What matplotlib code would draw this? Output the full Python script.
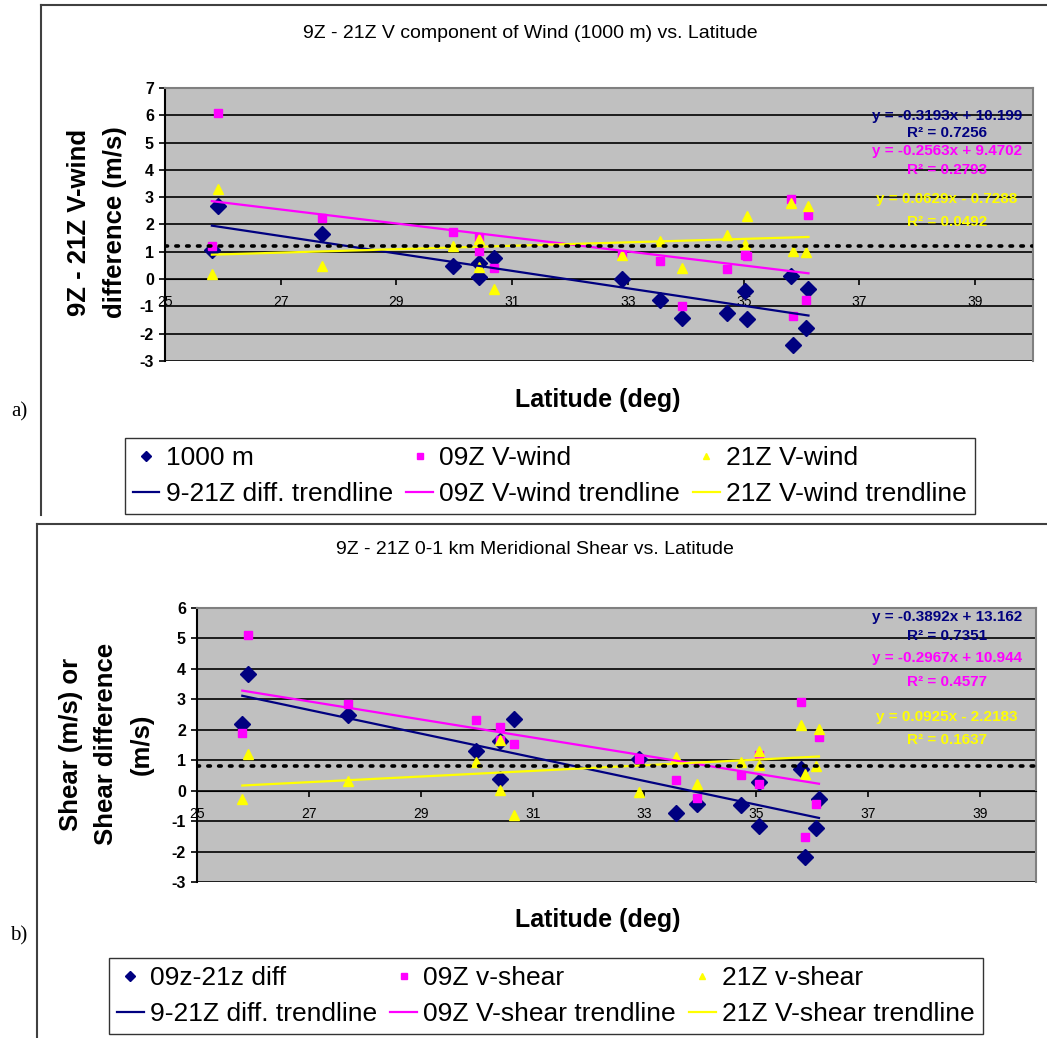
import matplotlib
matplotlib.use("Agg")
import matplotlib.pyplot as plt
from matplotlib.lines import Line2D
import numpy as np

plt.rcParams['font.family'] = ['Liberation Sans', 'DejaVu Sans']

# ---- panel a) : 9Z - 21Z V component of wind (1000 m)
lat_a = [25.91, 25.81, 27.71, 29.98, 30.42, 30.43, 30.68, 32.89, 33.56, 33.93,
         34.72, 35.03, 35.05, 35.81, 35.86, 36.12, 36.08]
diff_a = [2.67, 1.06, 1.67, 0.49, 0.60, 0.06, 0.76, 0.02, -0.77, -1.42,
          -1.23, -0.45, -1.47, 0.12, -2.42, -0.38, -1.78]
v09_a = [6.09, 1.22, 2.22, 1.71, 1.03, 1.53, 0.41, 0.90, 0.66, -0.99,
         0.38, 0.88, 0.84, 2.92, -1.36, 2.33, -0.77]
v21_a = [3.30, 0.18, 0.49, 1.22, 0.43, 1.47, -0.37, 0.88, 1.39, 0.39,
         1.61, 1.28, 2.31, 2.77, 1.03, 2.67, 1.00]
# trendline coefficients (slope, intercept, R2) as printed on the chart
fit_a = [(-0.3193, 10.199, 0.7256), (-0.2563, 9.4702, 0.2793), (0.0629, -0.7288, 0.0492)]
ref_a = 1.22
labels_a = ['1000 m', '09Z V-wind', '21Z V-wind',
            '9-21Z diff. trendline', '09Z V-wind trendline', '21Z V-wind trendline']

# ---- panel b) : 9Z - 21Z 0-1 km meridional shear
lat_b = [25.92, 25.81, 27.70, 29.98, 30.42, 30.42, 30.67, 32.90, 33.57, 33.94,
         34.72, 35.04, 35.05, 35.79, 35.87, 36.12, 36.07]
diff_b = [3.84, 2.19, 2.50, 1.29, 1.62, 0.38, 2.35, 1.05, -0.74, -0.44,
          -0.46, 0.28, -1.15, 0.72, -2.17, -0.29, -1.24]
s09_b = [5.10, 1.89, 2.85, 2.33, 1.68, 2.09, 1.52, 1.05, 0.34, -0.24,
         0.52, 1.16, 0.22, 2.90, -1.53, 1.76, -0.44]
s21_b = [1.21, -0.27, 0.31, 0.94, 0.03, 1.68, -0.81, -0.06, 1.09, 0.22,
         0.94, 0.85, 1.31, 2.15, 0.56, 2.03, 0.80]
fit_b = [(-0.3892, 13.162, 0.7351), (-0.2967, 10.944, 0.4577), (0.0925, -2.2183, 0.1637)]
ref_b = 0.82
labels_b = ['09z-21z diff', '09Z v-shear', '21Z v-shear',
            '9-21Z diff. trendline', '09Z V-shear trendline', '21Z V-shear trendline']

lat_ticks = [25, 27, 29, 31, 33, 35, 37, 39]
yticks_a = [-3, -2, -1, 0, 1, 2, 3, 4, 5, 6, 7]
yticks_b = [-3, -2, -1, 0, 1, 2, 3, 4, 5, 6]

NAVY = '#000080'
PINK = '#FF00FF'
YELLOW = '#FFFF00'
W, H = 1047, 1038

fig = plt.figure(figsize=(W / 100, H / 100), dpi=100)


def fx(px):
    return px / W


def fy(py):
    return 1 - py / H


def panel(box, lat, d, s09, s21, fits, ref, yticks, title, title_xy, ylabel, ylab_xy,
          xlab_y, eq_y, labels, leg_xy):
    l, t, r, b = box
    ax = fig.add_axes([fx(l), fy(b), (r - l) / W, (b - t) / H])
    ax.set_facecolor('#C0C0C0')
    ax.set_xlim(25, 40)
    ax.set_ylim(yticks[0], yticks[-1])
    ax.set_axisbelow(True)
    ax.yaxis.grid(True, color='black', lw=1.2)
    ax.set_xticks(lat_ticks)
    ax.set_yticks(yticks)
    ax.set_xticklabels([str(v) for v in lat_ticks], fontweight='bold', fontsize=12.5)
    ax.set_yticklabels([str(v) for v in yticks], fontweight='bold', fontsize=11.5)
    ax.tick_params(direction='out', length=4, width=1.2)
    ax.tick_params(axis='x', pad=7.5)
    ax.tick_params(axis='y', pad=4)
    ax.spines['bottom'].set_position(('data', 0))
    ax.spines['left'].set_linewidth(1.5)
    for sp in ['top', 'right']:
        ax.spines[sp].set_color('#808080')
        ax.spines[sp].set_linewidth(1.5)

    h1, = ax.plot(lat, d, 'D', color=NAVY, ms=8, ls='none', zorder=3)
    h2, = ax.plot(lat, s09, 's', color=PINK, ms=5.5, ls='none', zorder=3)
    h3, = ax.plot(lat, s21, '^', color=YELLOW, ms=6.5, ls='none', zorder=3)
    xs = np.array([min(lat), max(lat)])
    handles = [h1, h2, h3]
    for (m, c, r2), col in zip(fits, [NAVY, PINK, YELLOW]):
        hl, = ax.plot(xs, m * xs + c, color=col, lw=1.6, zorder=4)
        handles.append(hl)
    ax.axhline(ref, color='black', lw=2.6, ls=(0, (0.7, 2.3)),
               dash_capstyle='round', zorder=5)

    for (m, c, r2), col, (y1, y2) in zip(fits, [NAVY, PINK, YELLOW], eq_y):
        sign = '+' if c >= 0 else '-'
        fig.text(fx(947), fy(y1), 'y = %gx %s %g' % (m, sign, abs(c)), color=col,
                 fontsize=11, fontweight='bold', ha='center', va='center')
        fig.text(fx(947), fy(y2), 'R² = %.4f' % r2, color=col,
                 fontsize=11, fontweight='bold', ha='center', va='center')

    fig.text(fx(title_xy[0]), fy(title_xy[1]), title, fontsize=14, ha='center', va='center')
    fig.text(fx(ylab_xy[0]), fy(ylab_xy[1]), ylabel, fontsize=18.5, fontweight='bold',
             rotation=90, ha='center', va='center', linespacing=1.6)
    fig.text(fx(598), fy(xlab_y), 'Latitude (deg)', fontsize=18, fontweight='bold',
             ha='center', va='center')

    order = [0, 3, 1, 4, 2, 5]
    leg = fig.legend([handles[i] for i in order], [labels[i] for i in order], ncol=3,
                     loc='center', bbox_to_anchor=(fx(leg_xy[0]), fy(leg_xy[1])),
                     fontsize=19, frameon=True, fancybox=False, edgecolor='black',
                     handlelength=1.0, handletextpad=0.25, columnspacing=0.5,
                     markerscale=0.7, borderpad=0.3, labelspacing=0.45)
    leg.get_frame().set_linewidth(1.0)
    return ax


panel((165, 88, 1033, 361), lat_a, diff_a, v09_a, v21_a, fit_a, ref_a, yticks_a,
      '9Z - 21Z V component of Wind (1000 m) vs. Latitude', (530, 33),
      '9Z - 21Z V-wind\ndifference (m/s)', (97, 222), 400,
      [(116, 133), (151, 170), (199, 222)], labels_a, (550, 476))

panel((197, 608, 1036, 882), lat_b, diff_b, s09_b, s21_b, fit_b, ref_b, yticks_b,
      '9Z - 21Z 0-1 km Meridional Shear vs. Latitude', (535, 549),
      'Shear (m/s) or\nShear difference\n(m/s)', (106, 744), 920,
      [(617, 636), (658, 682), (717, 740)], labels_b, (546, 996))

# panel frames and labels
frame = dict(color='#404040', lw=1.5)
fig.add_artist(Line2D([fx(41), 1], [fy(5), fy(5)], **frame))
fig.add_artist(Line2D([fx(41), fx(41)], [fy(5), fy(515)], **frame))
fig.add_artist(Line2D([fx(37), 1], [fy(524), fy(524)], **frame))
fig.add_artist(Line2D([fx(37), fx(37)], [fy(524), 0], **frame))
fig.text(fx(19), fy(412), 'a)', family='Liberation Serif', fontsize=15, ha='center', va='center')
fig.text(fx(19), fy(936), 'b)', family='Liberation Serif', fontsize=15, ha='center', va='center')

fig.savefig('out.png', dpi=100)
